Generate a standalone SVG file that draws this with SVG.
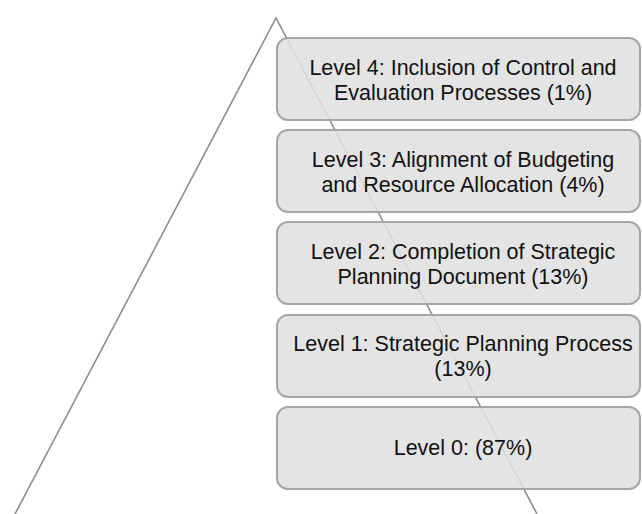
<svg xmlns="http://www.w3.org/2000/svg" width="642" height="514" viewBox="0 0 642 514">
  <style>
    .lvl rect { fill: #e0e0e0; fill-opacity: 0.88; stroke: #a6a6a6; stroke-width: 2; }
    .lvl text { font-family: "Liberation Sans", Arial, sans-serif; font-size: 21.5px; fill: #111; text-anchor: middle; }
    .edge { fill: none; stroke: #8e8e8e; stroke-width: 1.6; }
  </style>
  <rect width="642" height="514" fill="#ffffff"/>

  <!-- pyramid outline, drawn behind the level boxes -->
  <g id="connectors">
    <polyline class="edge" points="15,514 276,18 537,514"/>
  </g>

  <g id="level4" class="lvl">
    <rect x="277" y="38" width="363" height="82" rx="11"/>
    <text x="463" y="75">Level 4: Inclusion of Control and</text>
    <text x="463" y="100">Evaluation Processes (1%)</text>
  </g>
  <g id="level3" class="lvl">
    <rect x="277" y="130" width="363" height="82" rx="11"/>
    <text x="463" y="167">Level 3: Alignment of Budgeting</text>
    <text x="463" y="192">and Resource Allocation (4%)</text>
  </g>
  <g id="level2" class="lvl">
    <rect x="277" y="222" width="363" height="82" rx="11"/>
    <text x="463" y="259">Level 2: Completion of Strategic</text>
    <text x="463" y="284">Planning Document (13%)</text>
  </g>
  <g id="level1" class="lvl">
    <rect x="277" y="315" width="363" height="82" rx="11"/>
    <text x="463" y="351">Level 1: Strategic Planning Process</text>
    <text x="463" y="376">(13%)</text>
  </g>
  <g id="level0" class="lvl">
    <rect x="277" y="407" width="363" height="82" rx="11"/>
    <text x="463" y="455">Level 0: (87%)</text>
  </g>
</svg>
